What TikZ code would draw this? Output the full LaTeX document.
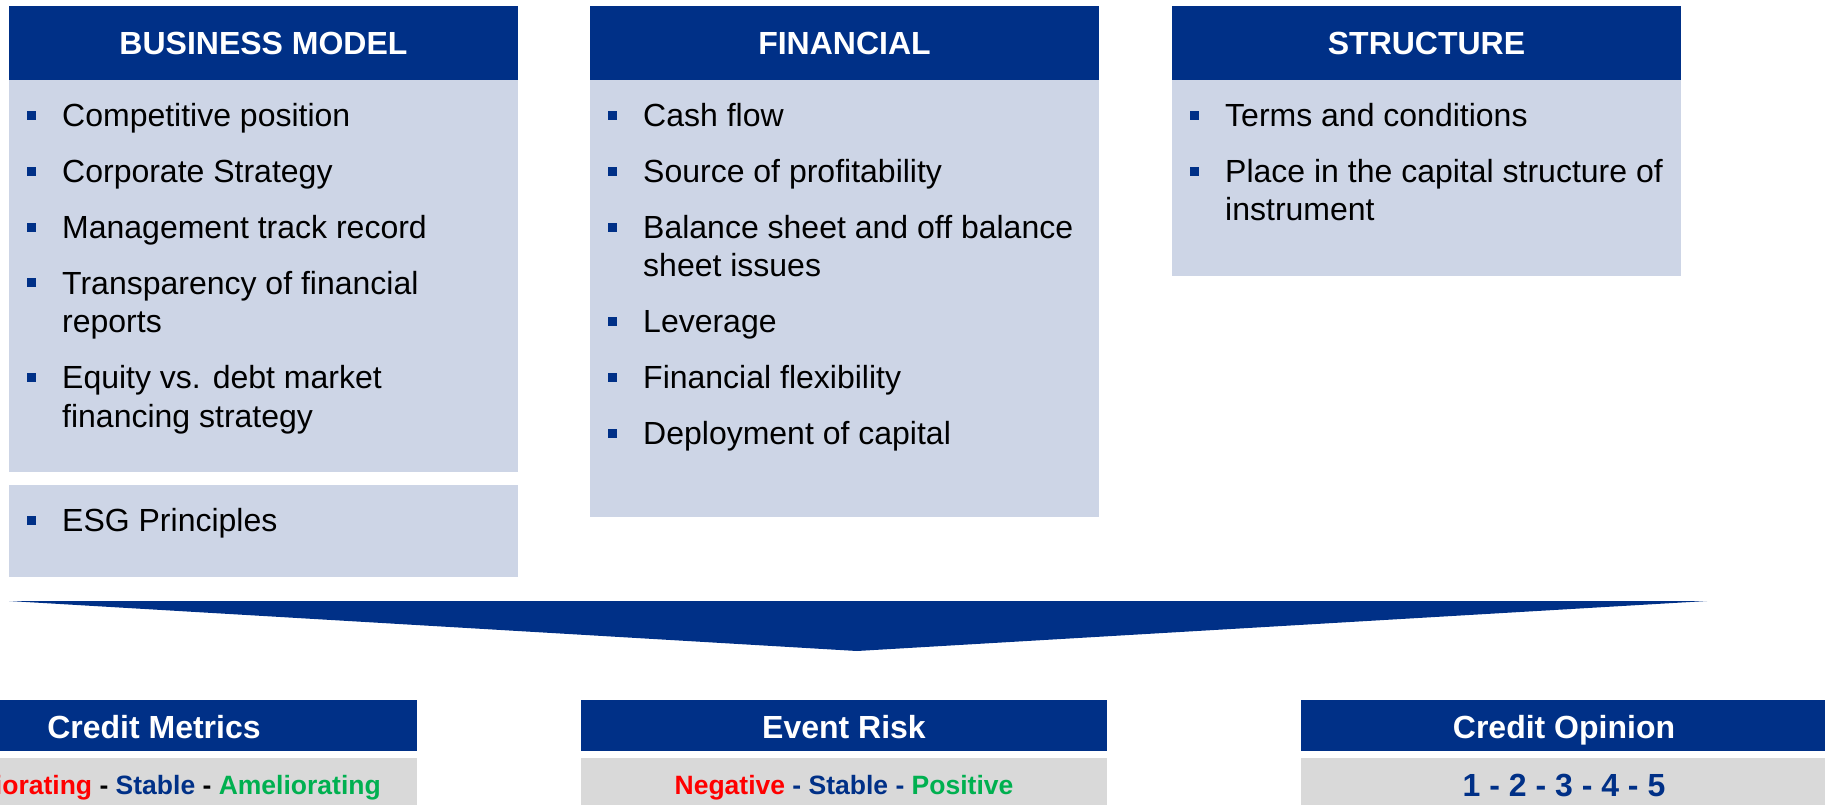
\documentclass[tikz,border=0pt]{standalone}
\usepackage{fontspec}
\setmainfont{Liberation Sans}
\definecolor{hdrblue}{RGB}{0,48,135}
\definecolor{bodyblue}{RGB}{205,213,230}
\definecolor{subgray}{RGB}{217,217,217}
\definecolor{negred}{RGB}{255,0,0}
\definecolor{posgreen}{RGB}{0,176,80}
\tikzset{
  panel/.style={rectangle, draw=none, inner sep=0, outer sep=0},
  hdrbox/.style={panel, fill=hdrblue},
  bodybox/.style={panel, fill=bodyblue},
  subbox/.style={panel, fill=subgray},
  hdrtext/.style={anchor=base, inner sep=0, text=white, font=\fontsize{32}{38}\selectfont\bfseries},
  subtext/.style={anchor=base, inner sep=0, font=\fontsize{26.5}{32}\selectfont\bfseries},
  itemtext/.style={anchor=base west, inner sep=0, font=\fontsize{32}{38.4}\selectfont},
  bul/.style={rectangle, fill=hdrblue, draw=none, inner sep=0, minimum width=9, minimum height=9}
}
\begin{document}
\begin{tikzpicture}[x=1pt,y=-1pt]
\useasboundingbox (0,0) rectangle (1825,805);
\clip (0,0) rectangle (1825,805);
% ---------- top panels ----------
\path[hdrbox] (9,6) rectangle (518,80);
\node[hdrbox, minimum width=509, minimum height=74, anchor=north west] (bmh) at (9,6) {};
\node[bodybox, minimum width=509, minimum height=392, anchor=north west] (bmb) at (9,80) {};
\node[bodybox, minimum width=509, minimum height=92, anchor=north west] (esg) at (9,485) {};
\node[hdrbox, minimum width=509, minimum height=74, anchor=north west] (fnh) at (590,6) {};
\node[bodybox, minimum width=509, minimum height=437, anchor=north west] (fnb) at (590,80) {};
\node[hdrbox, minimum width=509, minimum height=74, anchor=north west] (sth) at (1172,6) {};
\node[bodybox, minimum width=509, minimum height=196, anchor=north west] (stb) at (1172,80) {};
\node[hdrtext] (bmt) at (263.5,54.5) {BUSINESS MODEL};
\node[hdrtext] (fnt) at (844.5,54.5) {FINANCIAL};
\node[hdrtext] (stt) at (1426.5,54.5) {STRUCTURE};
% ---------- business model items ----------
\node[bul] (bb1) at (31.5,115.2) {};
\node[itemtext] (bi1) at (62,126.7) {Competitive position};
\node[bul] (bb2) at (31.5,171.1) {};
\node[itemtext] (bi2) at (62,182.6) {Corporate Strategy};
\node[bul] (bb3) at (31.5,227.0) {};
\node[itemtext] (bi3) at (62,238.5) {Management track record};
\node[bul] (bb4) at (31.5,282.8) {};
\node[itemtext] (bi4) at (62,294.3) {Transparency of financial};
\node[itemtext] (bi4b) at (62,332.7) {reports};
\node[bul] (bb5) at (31.5,377.1) {};
\node[itemtext] (bi5) at (62,388.6) {Equity vs. debt market};
\node[itemtext] (bi5b) at (62,427.0) {financing strategy};
\node[bul] (bb6) at (31.5,520.3) {};
\node[itemtext] (bi6) at (62,531.8) {ESG Principles};
% ---------- financial items ----------
\node[bul] (fb1) at (612.5,115.2) {};
\node[itemtext] (fi1) at (643,126.7) {Cash flow};
\node[bul] (fb2) at (612.5,171.1) {};
\node[itemtext] (fi2) at (643,182.6) {Source of profitability};
\node[bul] (fb3) at (612.5,227.0) {};
\node[itemtext] (fi3) at (643,238.5) {Balance sheet and off balance};
\node[itemtext] (fi3b) at (643,276.9) {sheet issues};
\node[bul] (fb4) at (612.5,321.2) {};
\node[itemtext] (fi4) at (643,332.7) {Leverage};
\node[bul] (fb5) at (612.5,377.1) {};
\node[itemtext] (fi5) at (643,388.6) {Financial flexibility};
\node[bul] (fb6) at (612.5,433.0) {};
\node[itemtext] (fi6) at (643,444.5) {Deployment of capital};
% ---------- structure items ----------
\node[bul] (sb1) at (1194.5,115.2) {};
\node[itemtext] (si1) at (1225,126.7) {Terms and conditions};
\node[bul] (sb2) at (1194.5,171.1) {};
\node[itemtext] (si2) at (1225,182.6) {Place in the capital structure of};
\node[itemtext] (si2b) at (1225,221.0) {instrument};
% ---------- funnel ----------
\coordinate (fl) at (9,601);
\coordinate (fr) at (1707,601);
\coordinate (fa) at (857,651);
\fill[hdrblue] (fl) -- (fr) -- (fa) -- cycle;
% ---------- bottom panels ----------
\node[hdrbox, minimum width=526, minimum height=51, anchor=north west] (cmh) at (-109,700) {};
\node[subbox, minimum width=526, minimum height=53, anchor=north west] (cms) at (-109,758) {};
\node[hdrbox, minimum width=526, minimum height=51, anchor=north west] (erh) at (581,700) {};
\node[subbox, minimum width=526, minimum height=53, anchor=north west] (ers) at (581,758) {};
\node[hdrbox, minimum width=526, minimum height=51, anchor=north west] (coh) at (1301,700) {};
\node[subbox, minimum width=526, minimum height=53, anchor=north west] (cos) at (1301,758) {};
\node[hdrtext] (cmt) at (154,738) {Credit Metrics};
\node[hdrtext] (ert) at (844,738) {Event Risk};
\node[hdrtext] (cot) at (1564,738) {Credit Opinion};
\node[subtext] (cmv) at (154,794) {{\color{negred}Deteriorating} - {\color{hdrblue}Stable} - {\color{posgreen}Ameliorating}};
\node[subtext, text=hdrblue] (erv) at (844,794) {{\color{negred}Negative} - Stable - {\color{posgreen}Positive}};
\node[hdrtext, text=hdrblue] (cov) at (1564,796) {1 - 2 - 3 - 4 - 5};
\end{tikzpicture}
\end{document}
